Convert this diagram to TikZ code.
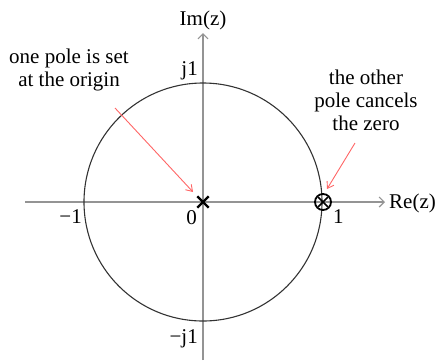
\documentclass[tikz,border=0pt]{standalone}
\usepackage{fontspec}
\setmainfont{Liberation Serif}[Ligatures=TeX]
\usetikzlibrary{arrows.meta,shapes.misc}
\begin{document}
\begin{tikzpicture}[x=1pt,y=-1pt,
  axisline/.style={draw=gray!80!black!70, line width=1.6pt, -{Straight Barb[length=5pt,width=10pt,line width=1.2pt]}},
  unitcircle/.style={draw=black!80, line width=1.1pt},
  lbl/.style={inner sep=0pt, font=\rmfamily\fontsize{21}{23}\selectfont},
  note/.style={draw=red!60, line width=0.9pt, -{Straight Barb[length=6pt,width=8pt]}},
  polemark/.style={cross out, draw=black, line width=2.4pt, minimum size=9pt, inner sep=0pt},
  zeromark/.style={circle, draw=black, line width=1.8pt, minimum size=16pt, inner sep=0pt}]
\useasboundingbox (0,0) rectangle (439,360);
\coordinate (O) at (203,202);
\coordinate (xs) at (25,202);
\coordinate (xe) at (385,202);
\coordinate (ys) at (203,360);
\coordinate (ye) at (203,33);
\draw[axisline] (xs) -- (xe);
\draw[axisline] (ys) -- (ye);
\draw[unitcircle] (O) circle[radius=119];
\node[polemark] (p0) at (O) {};
\node[zeromark] (z1) at (323,202) {};
\node[polemark, minimum size=8pt, line width=1.6pt] (p1) at (z1) {};
\node[lbl, anchor=base] (im) at (203,25) {Im(z)};
\node[lbl, anchor=base west] (re) at (389,208) {Re(z)};
\node[lbl, anchor=base east] (j1) at (198,75) {j1};
\node[lbl, anchor=base east] (mj1) at (198,343) {−j1};
\node[lbl, anchor=base east] (m1) at (82,223) {−1};
\node[lbl, anchor=base east] (zero) at (197,224) {0};
\node[lbl, anchor=base west] (one) at (333,223) {1};
\node[lbl, anchor=base, align=center] (n1) at (69,86) {one pole is set\\at the origin};
\node[lbl, anchor=base, align=center] (n2) at (366,130) {the other\\pole cancels\\the zero};
\coordinate (s1) at (115,108);
\coordinate (t1) at (193,192);
\coordinate (s2) at (355,143);
\coordinate (t2) at (327,189);
\draw[note] (s1) -- (t1);
\draw[note] (s2) -- (t2);
\end{tikzpicture}
\end{document}
